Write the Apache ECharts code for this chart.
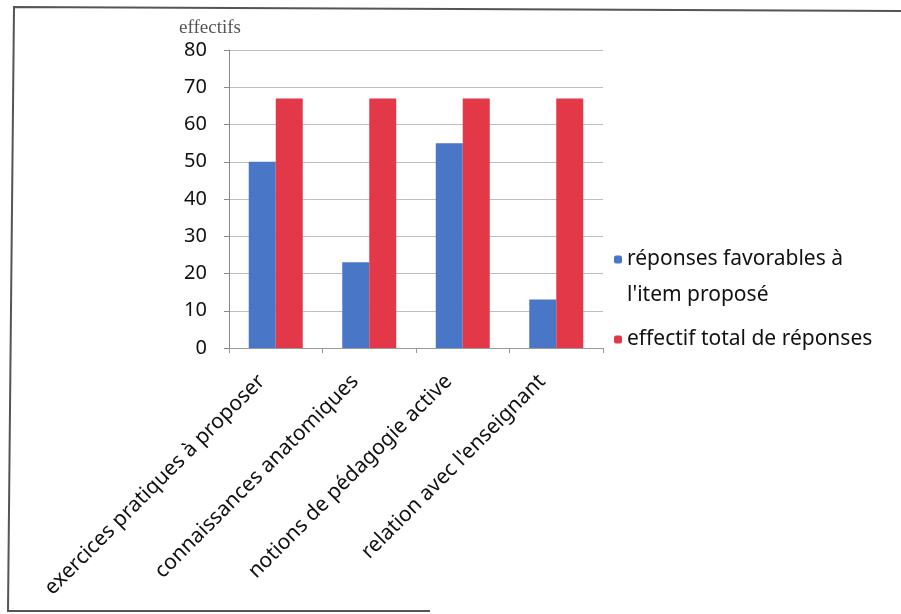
<!DOCTYPE html>
<html>
<head>
<meta charset="utf-8">
<style>
html, body { margin: 0; padding: 0; background: #fff; }
#chart { width: 901px; height: 614px; }
</style>
<script src="https://cdn.jsdelivr.net/npm/echarts@6/dist/echarts.min.js"></script>
</head>
<body>
<div id="chart"></div>
<script>
// items asked about
const categories = [
    'exercices pratiques à proposer',
    'connaissances anatomiques',
    'notions de pédagogie active',
    "relation avec l'enseignant"
];
const favorables = [50, 23, 55, 13];
const totals = [67, 67, 67, 67];
const seriesNames = ["réponses favorables à l'item proposé", 'effectif total de réponses'];

const chart = echarts.init(document.getElementById('chart'));

const legendText = {
    fontFamily: 'Noto Sans',
    fontSize: 21,
    color: '#111'
};

chart.setOption({
    animation: false,
    grid: {
        left: 229,
        top: 50,
        right: 298,
        bottom: 266
    },
    legend: [
        {
            // first line sits level with the square, second line below it
            data: [seriesNames[0]],
            left: 609,
            top: 208,
            itemWidth: 8,
            itemHeight: 8,
            textStyle: Object.assign({}, legendText, {
                rich: {
                    a: { fontFamily: 'Noto Sans', fontSize: 21, color: '#111', lineHeight: 36 }
                }
            }),
            formatter() {
                return "{a| }\n{a|réponses favorables à}\n{a|l'item proposé}";
            }
        },
        {
            data: [seriesNames[1]],
            left: 609,
            top: 324,
            itemWidth: 8,
            itemHeight: 8,
            textStyle: legendText
        }
    ],
    xAxis: {
        type: 'category',
        data: categories,
        axisLine: { lineStyle: { color: '#999', width: 1 } },
        axisTick: { show: true, length: 5, lineStyle: { color: '#999' } },
        axisLabel: {
            interval: 0,
            rotate: 45,
            margin: 16,
            padding: [0, 20, 0, 0],
            fontFamily: 'Noto Sans',
            fontSize: 21,
            color: '#111'
        }
    },
    yAxis: {
        type: 'value',
        min: 0,
        max: 80,
        interval: 10,
        name: 'effectifs',
        nameLocation: 'end',
        nameGap: 12,
        nameTextStyle: {
            fontFamily: 'Liberation Serif',
            fontSize: 19,
            color: '#555',
            align: 'center',
            padding: [0, 38, 0, 0]
        },
        axisLine: { show: true, lineStyle: { color: '#888' } },
        axisTick: { show: true, length: 5, lineStyle: { color: '#888' } },
        axisLabel: {
            margin: 22,
            fontFamily: 'Noto Sans',
            fontSize: 20,
            color: '#111'
        },
        splitLine: { lineStyle: { color: '#bdbdbd' } }
    },
    series: [
        {
            name: seriesNames[0],
            type: 'bar',
            data: favorables,
            barWidth: 27,
            barGap: '0%',
            itemStyle: { color: '#4a76c8' }
        },
        {
            name: seriesNames[1],
            type: 'bar',
            data: totals,
            barWidth: 27,
            itemStyle: { color: '#e23848' }
        }
    ],
    graphic: [
        {
            type: 'polyline',
            shape: { points: [[430, 611], [8, 611], [14, 7], [901, 11]] },
            style: { stroke: '#555', lineWidth: 2, fill: null }
        }
    ]
});
</script>
</body>
</html>
